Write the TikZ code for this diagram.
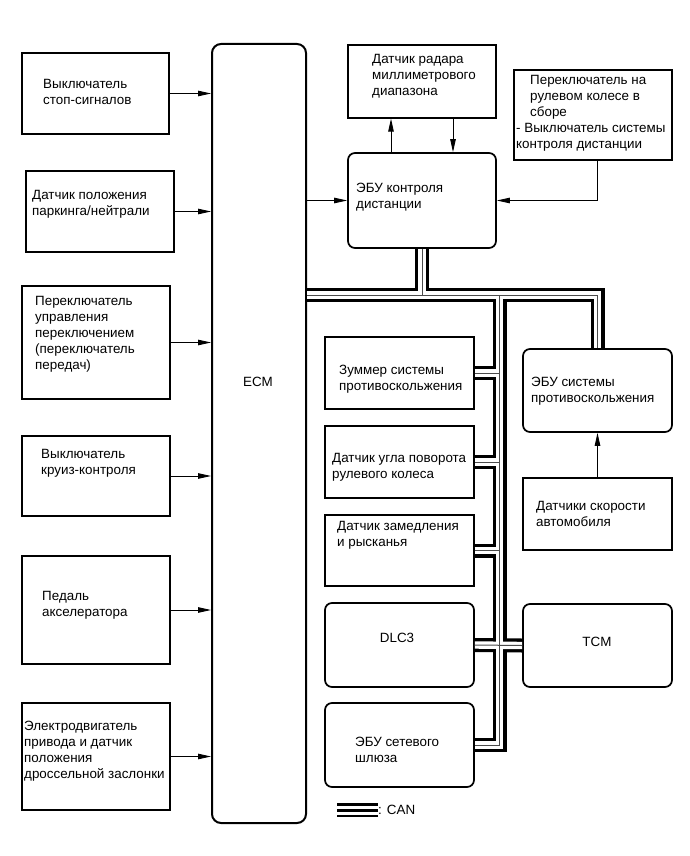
\documentclass[tikz,border=0pt]{standalone}
\usepackage{fontspec}
\setmainfont{Liberation Sans}
\usepackage{tikz}
\usetikzlibrary{
  arrows.meta,
  positioning,
}

\begin{document}
\begin{tikzpicture}[
  x=1pt, y=-1pt,
  font=\fontsize{13.4}{16}\selectfont,
  every node/.style={align=center},
  sqbox/.style={draw, line width=1.3pt, inner sep=0pt},
  rdbox/.style={draw, line width=1.7pt, rounded corners=7pt, inner sep=0pt},
  lbl/.style={anchor=west, align=left, inner sep=0pt},
  arr/.style={-{Triangle[length=13pt,width=5.5pt]}, line width=0.9pt},
]

\useasboundingbox (0,0) rectangle (690,856);

% left column
\node[sqbox, minimum width=147, minimum height=81] (stop) at (95.5,93.5) {};
\node[lbl] (stop-t) at (43,91.5) {Выключатель\\стоп-сигналов};

\node[sqbox, minimum width=148, minimum height=81] (park) at (100,211.5) {};
\node[lbl] (park-t) at (32,204.5) {Датчик положения\\паркинга/нейтрали};

\node[sqbox, minimum width=148, minimum height=113] (shift) at (96,342.5) {};
\node[lbl] (shift-t) at (35,334.5) {Переключатель\\управления\\переключением\\(переключатель\\передач)};

\node[sqbox, minimum width=148, minimum height=80] (cruise) at (96,476) {};
\node[lbl] (cruise-t) at (41,463) {Выключатель\\круиз-контроля};

\node[sqbox, minimum width=148, minimum height=108] (pedal) at (96,610) {};
\node[lbl] (pedal-t) at (42,605) {Педаль\\акселератора};

\node[sqbox, minimum width=148, minimum height=107] (thr) at (96,756.5) {};
\node[lbl] (thr-t) at (24,751) {Электродвигатель\\привода и датчик\\положения\\дроссельной заслонки};

% ECM
\node[rdbox, line width=2pt, rounded corners=9pt, minimum width=94, minimum height=779] (ecm) at (259,433.5) {};
\node (ecm-t) at (258,382) {ECM};

% distance control
\node[sqbox, minimum width=148, minimum height=73] (radar) at (422,81.5) {};
\node[lbl] (radar-t) at (372,76) {Датчик радара\\миллиметрового\\диапазона};

\node[rdbox, minimum width=148, minimum height=95] (dist) at (422,200.5) {};
\node[lbl] (dist-t) at (356,197) {ЭБУ контроля\\дистанции};

\node[sqbox, minimum width=158, minimum height=90] (steer) at (593,115) {};
\node[lbl] (steer-t) at (516,113) {\hspace*{14pt}Переключатель на\\\hspace*{14pt}рулевом колесе в\\\hspace*{14pt}сборе\\- Выключатель системы\\контроля дистанции};

% CAN nodes
\node[sqbox, minimum width=149, minimum height=72] (buzz) at (399.5,373) {};
\node[lbl] (buzz-t) at (339,379) {Зуммер системы\\противоскольжения};

\node[sqbox, minimum width=149, minimum height=72] (angle) at (399.5,462) {};
\node[lbl] (angle-t) at (332,467.5) {Датчик угла поворота\\рулевого колеса};

\node[sqbox, minimum width=149, minimum height=71] (yaw) at (399.5,550.5) {};
\node[lbl] (yaw-t) at (337,535) {Датчик замедления\\и рысканья};

\node[rdbox, minimum width=149, minimum height=84] (dlc) at (399.5,645) {};
\node (dlc-t) at (397,638) {DLC3};

\node[rdbox, minimum width=149, minimum height=84] (gw) at (399.5,745) {};
\node[lbl] (gw-t) at (355,750) {ЭБУ сетевого\\шлюза};

\node[rdbox, minimum width=149, minimum height=83] (abs) at (597.5,390.5) {};
\node[lbl] (abs-t) at (531,391.5) {ЭБУ системы\\противоскольжения};

\node[sqbox, minimum width=149, minimum height=72] (speed) at (597.5,514) {};
\node[lbl] (speed-t) at (536,514) {Датчики скорости\\автомобиля};

\node[rdbox, minimum width=149, minimum height=83] (tcm) at (597.5,645.5) {};
\node (tcm-t) at (597,642) {TCM};

% signal lines
\foreach \n in {stop,park,shift,cruise,pedal,thr}{
  \draw[arr] (\n.east) -- (\n.east -| ecm.west);
}
\draw[arr] (ecm.east |- dist.west) -- (dist.west);
\draw[arr] ([xshift=-31pt]dist.north) -- ([xshift=-31pt]radar.south);
\draw[arr] ([xshift=31pt]radar.south) -- ([xshift=31pt]dist.north);
\draw[arr] ([xshift=4pt]steer.south) |- (dist.east);
\draw[arr] (speed.north) -- (abs.south);

% CAN bus
\coordinate (tee) at (422,295);
\coordinate (bend) at (597.5,295);
\coordinate (trunk) at (499.5,295);
\coordinate (trunkend) at (499.5,745);
\foreach \w/\c in {14pt/black, 7.4pt/white, 1pt/black!70}{
  \draw[line width=\w, \c] (ecm.east |- tee) -- (bend) -- (abs.north);
  \draw[line width=\w, \c] (dist.south) -- (tee);
  \draw[line width=\w, \c] (trunk) -- (trunkend) -- (gw.east);
  \draw[line width=\w, \c] (buzz.east) -- (buzz.east -| trunk);
  \draw[line width=\w, \c] (angle.east) -- (angle.east -| trunk);
  \draw[line width=\w, \c] (yaw.east) -- (yaw.east -| trunk);
  \draw[line width=\w, \c] (dlc.east) -- (tcm.west);
}

% legend
\node[lbl] (can-t) at (378,810) {: CAN};
\draw[line width=14pt] (can-t.west) -- ++(-41,0);
\draw[line width=9pt, white] (can-t.west) -- ++(-41,0);
\draw[line width=3pt] (can-t.west) -- ++(-41,0);

\end{tikzpicture}
\end{document}
